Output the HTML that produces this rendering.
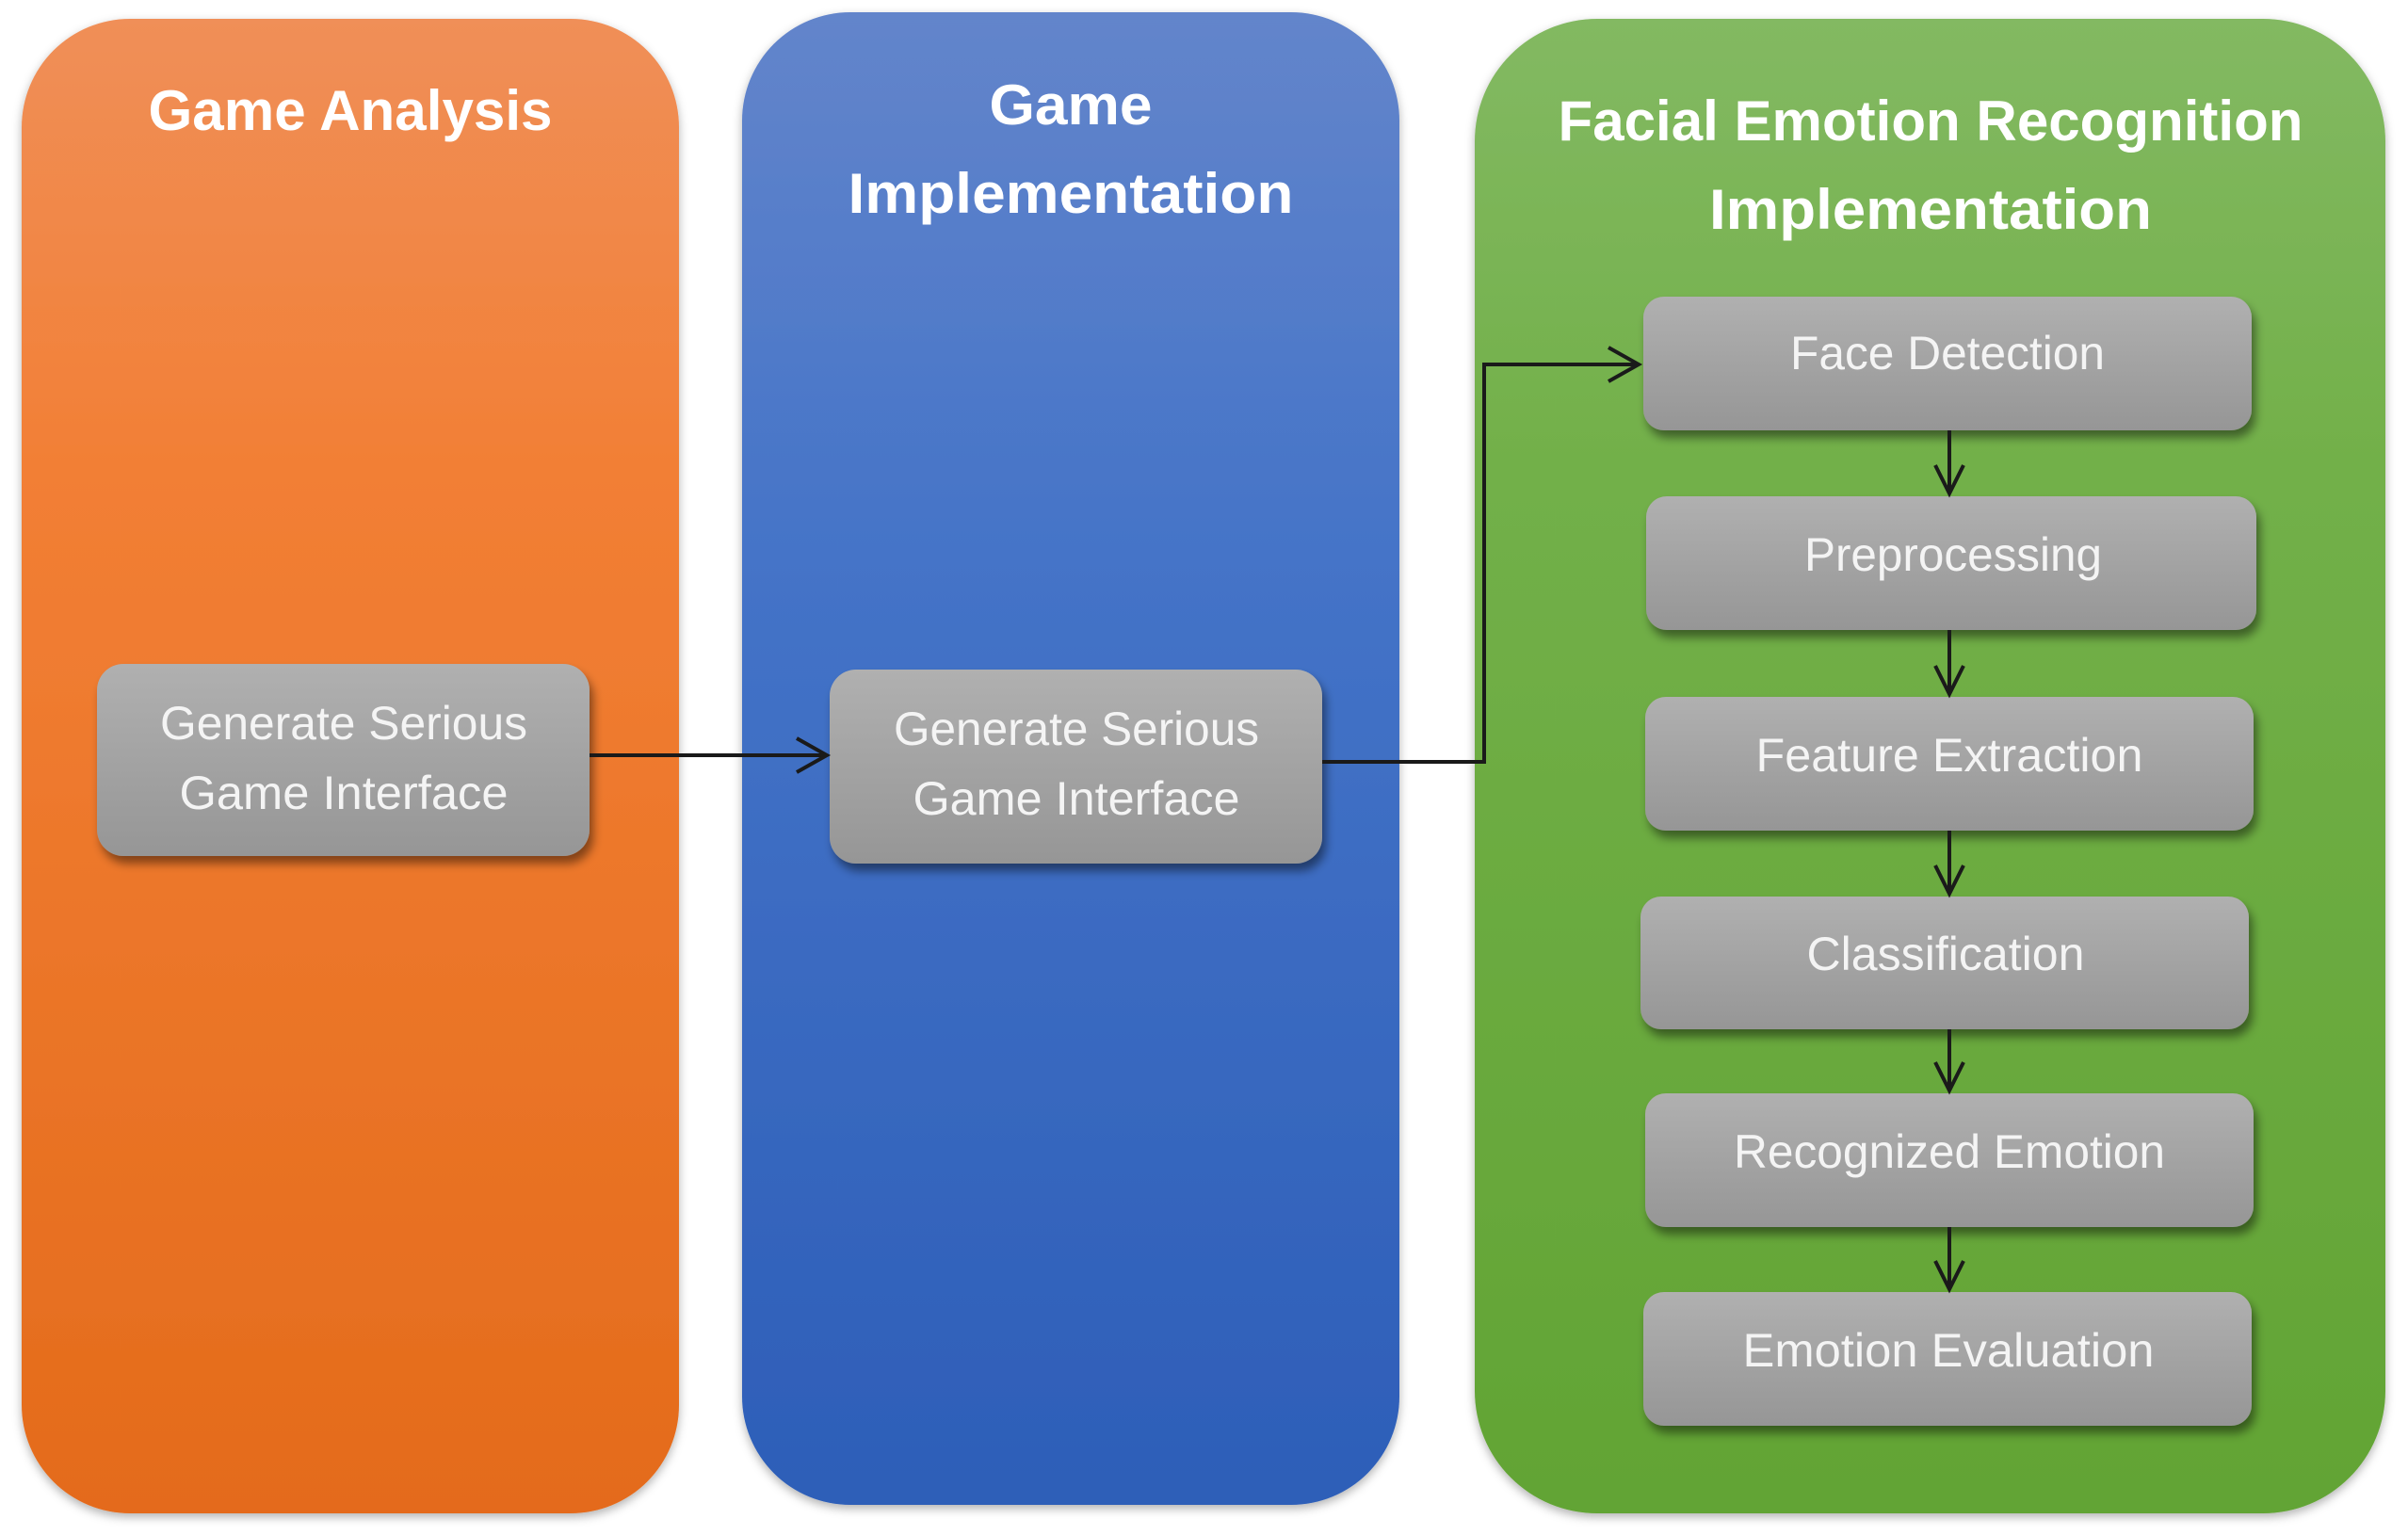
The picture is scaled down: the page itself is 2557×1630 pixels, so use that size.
<!DOCTYPE html>
<html><head><meta charset="utf-8"><style>
html,body{margin:0;padding:0;background:#fff;width:2557px;height:1630px;overflow:hidden}
svg{display:block}
text{font-family:"Liberation Sans",sans-serif}
</style></head><body>
<svg width="2557" height="1630" viewBox="0 0 2557 1630" xmlns="http://www.w3.org/2000/svg">
<defs>
<linearGradient id="go" x1="0" y1="0" x2="0" y2="1"><stop offset="0" stop-color="#f08f58"/><stop offset="0.3" stop-color="#f27f35"/><stop offset="1" stop-color="#e46b1b"/></linearGradient>
<linearGradient id="gb" x1="0" y1="0" x2="0" y2="1"><stop offset="0" stop-color="#6385cb"/><stop offset="0.35" stop-color="#4574c8"/><stop offset="1" stop-color="#2d5eb8"/></linearGradient>
<linearGradient id="gg" x1="0" y1="0" x2="0" y2="1"><stop offset="0" stop-color="#83b962"/><stop offset="0.3" stop-color="#72b049"/><stop offset="1" stop-color="#62a434"/></linearGradient>
<linearGradient id="gr" x1="0" y1="0" x2="0" y2="1"><stop offset="0" stop-color="#b0b0b0"/><stop offset="1" stop-color="#969696"/></linearGradient>
<filter id="sh" x="-10%" y="-10%" width="120%" height="140%"><feDropShadow dx="4" dy="8" stdDeviation="5" flood-color="#000" flood-opacity="0.45"/></filter>
<filter id="psh" x="-5%" y="-5%" width="110%" height="110%"><feDropShadow dx="0" dy="4" stdDeviation="5" flood-color="#000" flood-opacity="0.3"/></filter>
</defs>
<rect x="23" y="20" width="698" height="1587" rx="115" fill="url(#go)" filter="url(#psh)"/>
<rect x="788" y="13" width="698" height="1585" rx="115" fill="url(#gb)" filter="url(#psh)"/>
<rect x="1566" y="20" width="967" height="1587" rx="130" fill="url(#gg)" filter="url(#psh)"/>

<g fill="#fff" font-weight="bold" font-size="60" text-anchor="middle" lengthAdjust="spacingAndGlyphs">
<text x="372" y="138" textLength="429" lengthAdjust="spacingAndGlyphs">Game Analysis</text>
<text x="1137" y="132" textLength="173" lengthAdjust="spacingAndGlyphs">Game</text>
<text x="1137" y="226" textLength="473" lengthAdjust="spacingAndGlyphs">Implementation</text>
<text x="2050" y="149" textLength="791" lengthAdjust="spacingAndGlyphs">Facial Emotion Recognition</text>
<text x="2050" y="243" textLength="470" lengthAdjust="spacingAndGlyphs">Implementation</text>
</g>

<g filter="url(#sh)" fill="url(#gr)">
<rect x="103" y="705" width="523" height="204" rx="28"/>
<rect x="881" y="711" width="523" height="206" rx="28"/>
<rect x="1745" y="315" width="646" height="142" rx="22"/>
<rect x="1748" y="527" width="648" height="142" rx="22"/>
<rect x="1747" y="740" width="646" height="142" rx="22"/>
<rect x="1742" y="952" width="646" height="141" rx="22"/>
<rect x="1747" y="1161" width="646" height="142" rx="22"/>
<rect x="1745" y="1372" width="646" height="142" rx="22"/>
</g>

<g fill="#f4f4f4" font-size="50" text-anchor="middle">
<text x="365" y="785" textLength="390" lengthAdjust="spacingAndGlyphs">Generate Serious</text>
<text x="365" y="859" textLength="349" lengthAdjust="spacingAndGlyphs">Game Interface</text>
<text x="1143" y="791" textLength="388" lengthAdjust="spacingAndGlyphs">Generate Serious</text>
<text x="1143" y="865" textLength="347" lengthAdjust="spacingAndGlyphs">Game Interface</text>
<text x="2068" y="392" textLength="334" lengthAdjust="spacingAndGlyphs">Face Detection</text>
<text x="2074" y="606" textLength="316" lengthAdjust="spacingAndGlyphs">Preprocessing</text>
<text x="2070" y="819" textLength="411" lengthAdjust="spacingAndGlyphs">Feature Extraction</text>
<text x="2066" y="1030" textLength="295" lengthAdjust="spacingAndGlyphs">Classification</text>
<text x="2070" y="1240" textLength="458" lengthAdjust="spacingAndGlyphs">Recognized Emotion</text>
<text x="2069" y="1451" textLength="437" lengthAdjust="spacingAndGlyphs">Emotion Evaluation</text>
</g>

<g stroke="#1a1a1a" stroke-width="4" fill="none">
<line x1="626" y1="802" x2="878" y2="802"/>
<polyline points="846,784 878,802 846,820"/>
<polyline points="1404,809 1576,809 1576,387 1740,387"/>
<polyline points="1708,369 1740,387 1708,405"/>
<line x1="2070" y1="457" x2="2070" y2="524"/><polyline points="2055,494 2070,524 2085,494"/>
<line x1="2070" y1="669" x2="2070" y2="737"/><polyline points="2055,707 2070,737 2085,707"/>
<line x1="2070" y1="882" x2="2070" y2="949"/><polyline points="2055,919 2070,949 2085,919"/>
<line x1="2070" y1="1093" x2="2070" y2="1158"/><polyline points="2055,1128 2070,1158 2085,1128"/>
<line x1="2070" y1="1303" x2="2070" y2="1369"/><polyline points="2055,1339 2070,1369 2085,1339"/>
</g>
</svg>
</body></html>
